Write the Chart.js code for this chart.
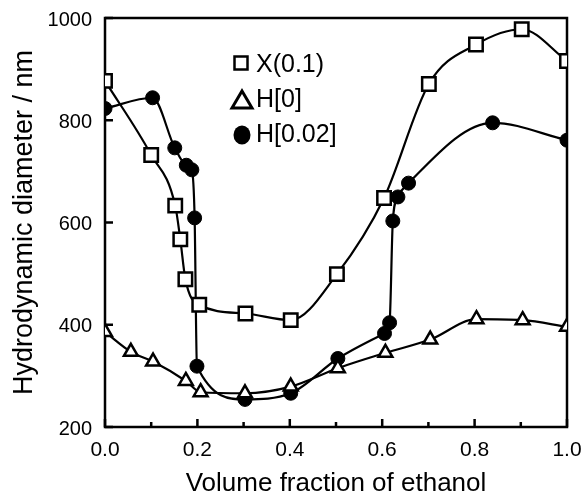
<!DOCTYPE html>
<html><head><meta charset="utf-8">
<script src="https://cdn.jsdelivr.net/npm/chart.js@4"></script>
<style>html,body{margin:0;padding:0;background:#fff}</style>
</head><body>
<canvas id="c" width="581" height="493"></canvas>
<script>
const seriesNames = ['X(0.1)', 'H[0]', 'H[0.02]'];
const xX  = [0.0, 0.100, 0.152, 0.163, 0.174, 0.204, 0.304, 0.402, 0.502, 0.604, 0.701, 0.803, 0.902, 1.0];
const yX  = [877, 732, 633, 567, 489, 439, 422, 409, 499, 648, 871, 948, 978, 916];
const xH0 = [0.0, 0.056, 0.104, 0.175, 0.207, 0.303, 0.402, 0.504, 0.607, 0.704, 0.804, 0.904, 1.0];
const yH0 = [386, 347, 328, 290, 268, 266, 279, 315, 345, 371, 411, 409, 396];
const xH2 = [0.0, 0.103, 0.151, 0.176, 0.188, 0.194, 0.199, 0.303, 0.402, 0.504, 0.605, 0.616, 0.623, 0.634, 0.657, 0.839, 1.0];
const yH2 = [823, 844, 746, 712, 703, 609, 319, 254, 266, 334, 383, 404, 603, 650, 677, 795, 761];
const xTickLabels = [0.0, 0.2, 0.4, 0.6, 0.8, 1.0];
const xMinorTicks = [0.1, 0.3, 0.5, 0.7, 0.9];
const yTickLabels = [200, 400, 600, 800, 1000];
const xTitle = 'Volume fraction of ethanol';
const yTitle = 'Hydrodynamic diameter / nm';

const FONT = "'Liberation Sans', Arial, Helvetica, sans-serif";
const pts = (xs, ys) => xs.map((x, i) => ({x: x, y: ys[i]}));

const framePlugin = {
  id: 'frame',
  beforeDatasetsDraw(chart) {
    const {ctx, chartArea: a, scales: {x, y}} = chart;
    ctx.save();
    ctx.strokeStyle = '#000';
    ctx.lineWidth = 2.5;
    ctx.strokeRect(a.left, a.top, a.right - a.left, a.bottom - a.top);
    ctx.beginPath();
    xTickLabels.forEach(v => { const px = x.getPixelForValue(v); ctx.moveTo(px, a.bottom); ctx.lineTo(px, a.bottom - 8); });
    xMinorTicks.forEach(v => { const px = x.getPixelForValue(v); ctx.moveTo(px, a.bottom); ctx.lineTo(px, a.bottom - 5); });
    yTickLabels.forEach(v => { const py = y.getPixelForValue(v); ctx.moveTo(a.left, py); ctx.lineTo(a.left + 8, py); });
    ctx.stroke();
    ctx.restore();
  }
};

const legendPlugin = {
  id: 'customLegend',
  afterDraw(chart) {
    const ctx = chart.ctx;
    ctx.save();
    ctx.strokeStyle = '#000';
    ctx.lineWidth = 2.5;
    ctx.fillStyle = '#fff';
    ctx.fillRect(234.5, 56.5, 13, 13);
    ctx.strokeRect(234.5, 56.5, 13, 13);
    ctx.lineWidth = 3;
    ctx.beginPath();
    ctx.moveTo(242, 91); ctx.lineTo(252, 108); ctx.lineTo(232, 108); ctx.closePath();
    ctx.fill(); ctx.stroke();
    ctx.fillStyle = '#000';
    ctx.beginPath();
    ctx.ellipse(242, 135, 8.5, 9.5, 0, 0, Math.PI * 2);
    ctx.fill();
    ctx.font = '25px ' + FONT;
    ctx.textBaseline = 'middle';
    ctx.textAlign = 'left';
    ctx.fillText(seriesNames[0], 256, 65);
    ctx.fillText(seriesNames[1], 256, 100);
    ctx.fillText(seriesNames[2], 256, 135);
    ctx.restore();
  }
};

const common = {showLine: true, borderColor: '#000', borderWidth: 2.2, cubicInterpolationMode: 'monotone', pointBorderColor: '#000'};

new Chart(document.getElementById('c'), {
  type: 'scatter',
  data: {
    datasets: [
      Object.assign({}, common, {label: seriesNames[0], data: pts(xX, yX), pointStyle: 'rect', pointRadius: 9.5, pointBorderWidth: 2.5, pointBackgroundColor: '#fff'}),
      Object.assign({}, common, {label: seriesNames[1], data: pts(xH0, yH0), pointStyle: 'triangle', pointRadius: 8, pointBorderWidth: 2.5, pointBackgroundColor: '#fff'}),
      Object.assign({}, common, {label: seriesNames[2], data: pts(xH2, yH2), pointStyle: 'circle', pointRadius: 7, pointBorderWidth: 1, pointBackgroundColor: '#000'})
    ]
  },
  options: {
    responsive: false,
    animation: false,
    devicePixelRatio: 1,
    layout: {padding: {left: 0, right: 14, top: 18, bottom: 0}},
    plugins: {legend: {display: false}, tooltip: {enabled: false}},
    scales: {
      x: {
        type: 'linear', min: 0, max: 1,
        afterBuildTicks: s => { s.ticks = xTickLabels.map(v => ({value: v})); },
        afterFit: s => { s.height = 66; s.paddingLeft = 0; s.paddingRight = 0; },
        grid: {display: false, drawTicks: false},
        border: {display: false},
        ticks: {color: '#000', font: {family: FONT, size: 21}, padding: 11, maxRotation: 0, autoSkip: false, callback: v => Number(v).toFixed(1)},
        title: {display: true, text: xTitle, color: '#000', font: {family: FONT, size: 26, lineHeight: 0.6}, padding: {top: 0, bottom: 1}}
      },
      y: {
        type: 'linear', min: 200, max: 1000,
        afterBuildTicks: s => { s.ticks = yTickLabels.map(v => ({value: v})); },
        afterFit: s => { s.width = 105; s.paddingTop = 0; s.paddingBottom = 0; },
        grid: {display: false, drawTicks: false},
        border: {display: false},
        ticks: {color: '#000', font: {family: FONT, size: 20}, padding: 13, labelOffset: 2, callback: v => String(v)},
        title: {display: true, text: yTitle, color: '#000', font: {family: FONT, size: 27}, padding: {top: 8, bottom: 0}}
      }
    }
  },
  plugins: [framePlugin, legendPlugin]
});
</script>
</body></html>
